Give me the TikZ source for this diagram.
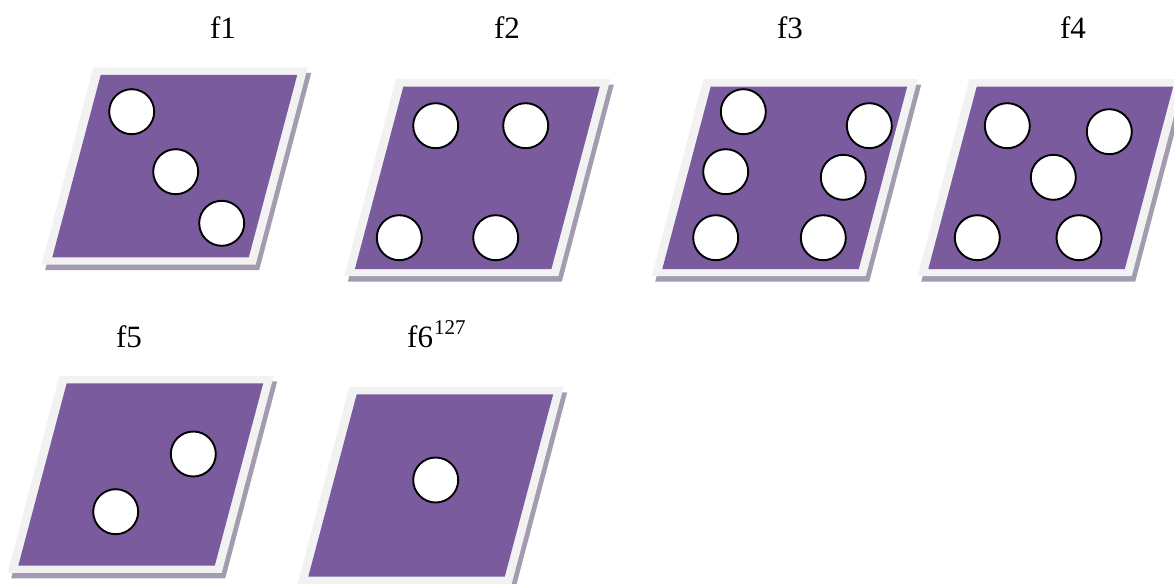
\documentclass[tikz,border=0pt]{standalone}
\usepackage{fontspec}
\setmainfont{Liberation Serif}
\definecolor{dicepurple}{RGB}{122,91,158}
\definecolor{diceborder}{RGB}{242,242,242}
\definecolor{diceshadow}{RGB}{163,155,175}
\tikzset{
  die/.pic={
    \fill[diceshadow] (-3.9,-2) -- (210.5,-2) -- (158.5,195) -- (-55.5,195) -- cycle;
    \fill[diceborder] (-7.4,-7.5) -- (207,-7.5) -- (155,189.5) -- (-59,189.5) -- cycle;
    \fill[dicepurple] (0,0) -- (196.5,0) -- (148.1,182.3) -- (-48.4,182.3) -- cycle;
  },
  pip/.style={circle, draw=black, fill=white, line width=1.9pt, minimum size=45pt, inner sep=0pt},
  lbl/.style={font=\fontsize{31}{31}\selectfont, inner sep=0pt, anchor=base}
}
\begin{document}
\begin{tikzpicture}[x=1pt,y=-1pt]
\useasboundingbox (0,0) rectangle (1174,583);
% labels
\node[lbl] (l1) at (223,39) {f1};
\node[lbl] (l2) at (507,39) {f2};
\node[lbl] (l3) at (790,39) {f3};
\node[lbl] (l4) at (1073,39) {f4};
\node[lbl] (l5) at (129,347) {f5};
\node[lbl, anchor=base west] (l6) at (407,347.5) {f6\hspace{1pt}\raisebox{13.5pt}{\fontsize{21}{21}\selectfont 127}};
% dice
\pic at (100.7,75) {die};
\pic at (403.3,86.7) {die};
\pic at (710.7,86.7) {die};
\pic at (976.7,86.7) {die};
\pic at (66.7,383.3) {die};
\pic at (356.7,394.3) {die};
% pips die 1
\node[pip] (a1) at (131.7,111.7) {};
\node[pip] (a2) at (175.7,171.7) {};
\node[pip] (a3) at (221.7,223.3) {};
% pips die 2
\node[pip] (b1) at (435.7,125.7) {};
\node[pip] (b2) at (525.7,125.7) {};
\node[pip] (b3) at (399.3,237.7) {};
\node[pip] (b4) at (495.7,237.7) {};
% pips die 3
\node[pip] (c1) at (743.3,111.7) {};
\node[pip] (c2) at (869.3,125.7) {};
\node[pip] (c3) at (725.7,171.7) {};
\node[pip] (c4) at (843.3,177.3) {};
\node[pip] (c5) at (715.7,237.7) {};
\node[pip] (c6) at (823.3,237.7) {};
% pips die 4
\node[pip] (e1) at (1007.3,125.7) {};
\node[pip] (e2) at (1109.3,131.7) {};
\node[pip] (e3) at (1053.3,177.3) {};
\node[pip] (e4) at (977.3,237.7) {};
\node[pip] (e5) at (1079,237.7) {};
% pips die 5
\node[pip] (g1) at (193.3,454) {};
\node[pip] (g2) at (115.7,511.7) {};
% pip die 6
\node[pip] (h1) at (435.7,480) {};
\end{tikzpicture}
\end{document}
